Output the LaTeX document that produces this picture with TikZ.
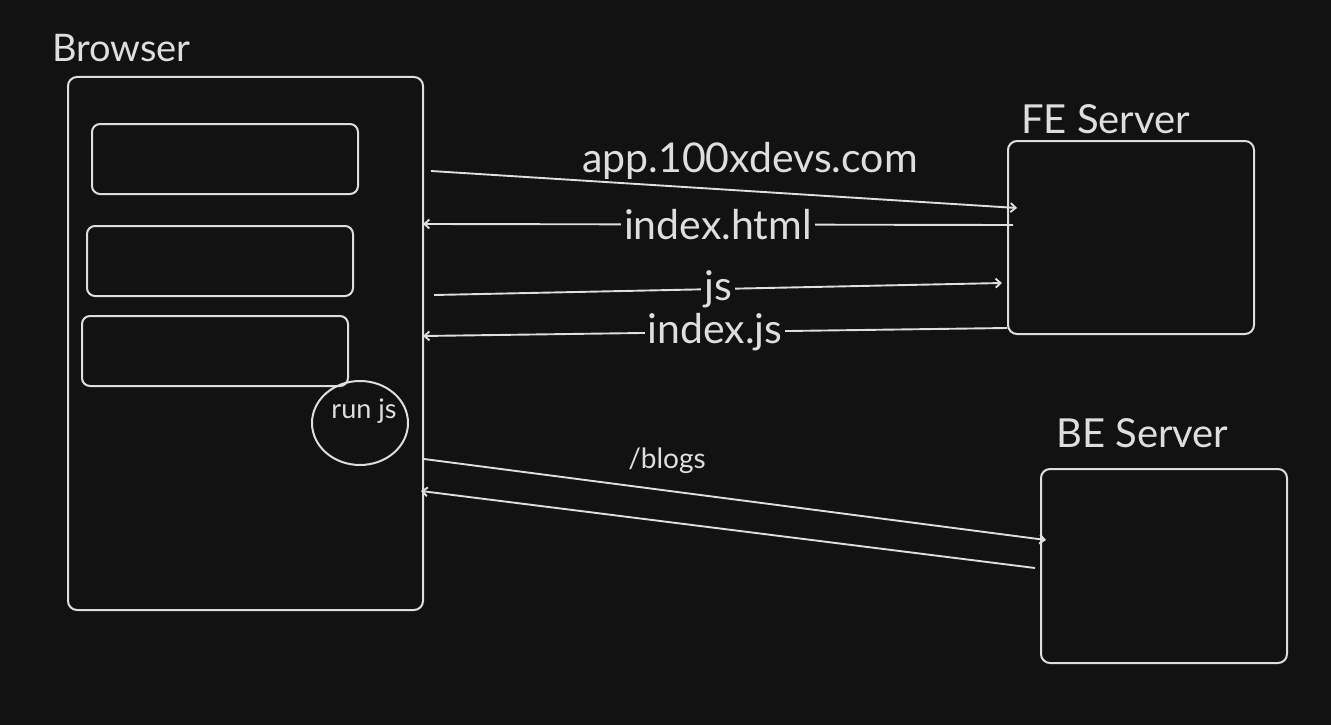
\documentclass[tikz,border=0pt]{standalone}
\usepackage{fontspec}
\setmainfont{Lato}
\usetikzlibrary{arrows.meta,calc,shapes.geometric}
\definecolor{bg}{HTML}{121212}
\definecolor{ink}{HTML}{DEDEDE}
\begin{document}
\begin{tikzpicture}[x=1pt,y=-1pt,
  box/.style={draw=ink,line width=2pt,rounded corners=9pt,inner sep=0pt,outer sep=0pt},
  ibox/.style={draw=ink,line width=2pt,rounded corners=8pt,inner sep=0pt,outer sep=0pt,minimum width=266pt,minimum height=70pt},
  conn/.style={draw=ink,line width=1.9pt,-{Straight Barb[length=5pt,width=9pt]}},
  title/.style={text=ink,inner sep=0pt,anchor=base west,font=\fontsize{40}{46}\selectfont},
  lab/.style={text=ink,inner sep=2pt,font=\fontsize{41}{48}\selectfont},
  mlab/.style={lab,fill=bg,inner sep=3pt},
  slab/.style={text=ink,inner sep=0pt,anchor=base,font=\fontsize{28}{33}\selectfont}]
\fill[bg] (0,0) rectangle (1331,725);
\useasboundingbox (0,0) rectangle (1331,725);

% Browser
\node[title,font=\fontsize{38}{44}\selectfont] (browserlabel) at (52,62) {Browser};
\node[box,minimum width=355pt,minimum height=533pt] (browser) at (245.5,343.5) {};
\node[ibox] (b1) at (225,159) {};
\node[ibox] (b2) at (220,261) {};
\node[ibox] (b3) at (215,351) {};
\node[ellipse,draw=ink,line width=2pt,minimum width=96pt,minimum height=84pt,inner sep=0pt] (run) at (360,423) {};
\node[slab,font=\fontsize{27}{32}\selectfont] (runjs) at (364,418) {run js};

% Servers
\node[title] (felabel) at (1021,133) {FE Server};
\node[box,minimum width=246pt,minimum height=193pt] (fe) at (1131,237.5) {};
\node[title] (belabel) at (1056,447) {BE Server};
\node[box,minimum width=246pt,minimum height=194pt] (be) at (1164,566) {};

% FE connectors
\draw[conn] ($(browser.north east)+(8,94)$) -- ($(fe.north west)+(9,67)$);
\node[lab,anchor=base] (applabel) at (750,172) {app.100xdevs.com};
\draw[conn] ($(fe.north west)+(5,84)$) -- node[mlab] (htmllabel) {index.html} ($(browser.north east)+(0,147)$);
\draw[conn] ($(browser.north east)+(11,218)$) -- node[mlab] (jslabel) {js} ($(fe.north west)+(-6,142)$);
\draw[conn] ($(fe.north west)+(-1,187)$) -- node[mlab] (indexjslabel) {index.js} ($(browser.north east)+(0,259)$);

% BE connectors
\draw[conn] ($(browser.north east)+(1,382)$) -- ($(be.north west)+(5,71)$);
\node[slab] (blogslabel) at (667,468) {/blogs};
\draw[conn] ($(be.north west)+(-6,99)$) -- ($(browser.north east)+(-2,414)$);
\end{tikzpicture}
\end{document}
